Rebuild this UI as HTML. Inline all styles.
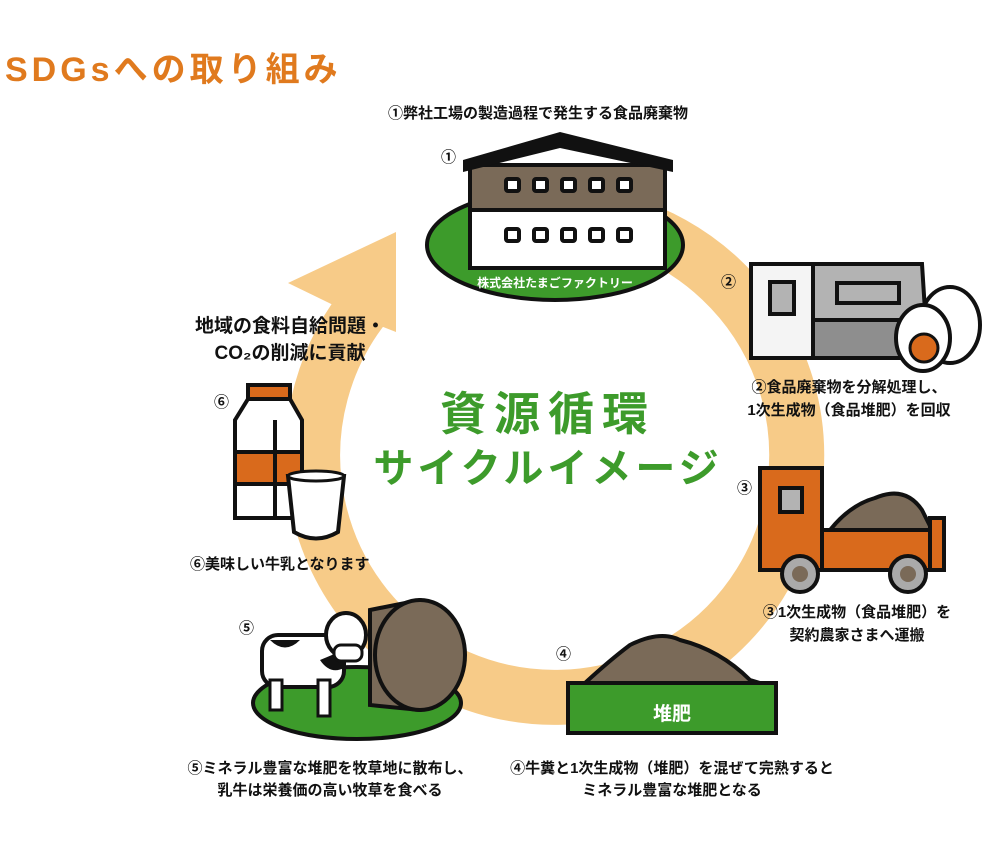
<!DOCTYPE html>
<html><head><meta charset="utf-8"><style>
body{margin:0;background:#fff;}
svg{display:block;font-family:"Liberation Sans","Noto Sans CJK JP",sans-serif;font-weight:bold;}
</style></head><body>
<svg width="989" height="861" viewBox="0 0 989 861" xmlns="http://www.w3.org/2000/svg">
<!-- ring -->
<path d="M513 217 A242 242 0 1 1 370 299" fill="none" stroke="#f7cb88" stroke-width="55"/>
<polygon points="288,283 396,232 396,332 360,318" fill="#f7cb88"/>

<text x="5" y="81" font-size="34" letter-spacing="4" fill="#e07a1e">SDGsへの取り組み</text>

<!-- factory -->
<ellipse cx="555" cy="245" rx="128" ry="55" fill="#3d9b2b" stroke="#111" stroke-width="4"/>
<rect x="470" y="165" width="195" height="45" fill="#7a6a58" stroke="#111" stroke-width="4"/>
<rect x="470" y="210" width="195" height="58" fill="#fff" stroke="#111" stroke-width="4"/>
<polygon points="463,160 560,132 673,160 673,172 560,148 463,172" fill="#111"/>
<g fill="#fff" stroke="#111" stroke-width="4">
<rect x="506" y="179" width="13" height="12" rx="2"/><rect x="534" y="179" width="13" height="12" rx="2"/><rect x="562" y="179" width="13" height="12" rx="2"/><rect x="590" y="179" width="13" height="12" rx="2"/><rect x="618" y="179" width="13" height="12" rx="2"/>
<rect x="506" y="229" width="13" height="12" rx="2"/><rect x="534" y="229" width="13" height="12" rx="2"/><rect x="562" y="229" width="13" height="12" rx="2"/><rect x="590" y="229" width="13" height="12" rx="2"/><rect x="618" y="229" width="13" height="12" rx="2"/>
</g>
<text x="555" y="287" font-size="12" fill="#fff" text-anchor="middle">株式会社たまごファクトリー</text>

<!-- machine -->
<polygon points="812,264 922,264 928,358 812,358" fill="#b3b3b3" stroke="#111" stroke-width="4"/>
<rect x="814" y="320" width="112" height="36" fill="#8e8e8e"/>
<line x1="812" y1="320" x2="926" y2="320" stroke="#111" stroke-width="4"/>
<rect x="751" y="264" width="62" height="94" fill="#f4f4f4" stroke="#111" stroke-width="4"/>
<rect x="770" y="282" width="24" height="32" fill="#b3b3b3" stroke="#111" stroke-width="4"/>
<rect x="837" y="283" width="62" height="20" fill="#b3b3b3" stroke="#111" stroke-width="4"/>
<ellipse cx="950" cy="325" rx="30" ry="38" fill="#fff" stroke="#111" stroke-width="4"/>
<ellipse cx="923" cy="338" rx="27" ry="33" fill="#fff" stroke="#111" stroke-width="4"/>
<circle cx="924" cy="348" r="14" fill="#d96a1c" stroke="#111" stroke-width="3"/>

<!-- truck -->
<path d="M830 530 Q850 505 875 498 Q905 485 922 510 L932 530 Z" fill="#7a6a58" stroke="#111" stroke-width="4"/>
<rect x="820" y="530" width="112" height="40" fill="#d96a1c" stroke="#111" stroke-width="4"/>
<rect x="930" y="518" width="14" height="52" fill="#d96a1c" stroke="#111" stroke-width="4"/>
<rect x="760" y="468" width="62" height="102" fill="#d96a1c" stroke="#111" stroke-width="4"/>
<rect x="780" y="488" width="22" height="24" fill="#b3b3b3" stroke="#111" stroke-width="4"/>
<circle cx="800" cy="574" r="18" fill="#aaa" stroke="#111" stroke-width="4"/><circle cx="800" cy="574" r="8" fill="#7a6a58"/>
<circle cx="908" cy="574" r="18" fill="#aaa" stroke="#111" stroke-width="4"/><circle cx="908" cy="574" r="8" fill="#7a6a58"/>

<!-- compost -->
<path d="M585 683 Q610 660 630 645 Q660 630 680 640 Q720 650 750 680 L760 683 Z" fill="#7a6a58" stroke="#111" stroke-width="4"/>
<rect x="568" y="683" width="208" height="50" fill="#3d9b2b" stroke="#111" stroke-width="4"/>
<text x="672" y="720" font-size="19" fill="#fff" text-anchor="middle">堆肥</text>

<!-- cow -->
<ellipse cx="357" cy="703" rx="104" ry="36" fill="#3d9b2b" stroke="#111" stroke-width="4"/>
<path d="M370 610 L420 600 A48 56 0 0 1 420 710 L370 705 Z" fill="#7a6a58" stroke="#111" stroke-width="4"/>
<ellipse cx="420" cy="655" rx="45" ry="55" fill="#7a6a58" stroke="#111" stroke-width="4"/>
<rect x="262" y="635" width="82" height="52" rx="16" fill="#fff" stroke="#111" stroke-width="4"/>
<path d="M270 640 Q285 655 300 640 Z M320 660 Q330 675 344 668 L344 650 Z" fill="#111"/>
<rect x="270" y="680" width="12" height="30" fill="#fff" stroke="#111" stroke-width="3"/>
<rect x="318" y="680" width="12" height="36" fill="#fff" stroke="#111" stroke-width="3"/>
<ellipse cx="346" cy="635" rx="20" ry="22" fill="#fff" stroke="#111" stroke-width="4"/>
<rect x="334" y="645" width="28" height="16" rx="7" fill="#fff" stroke="#111" stroke-width="3"/>

<!-- milk -->
<rect x="248" y="385" width="42" height="14" fill="#d96a1c" stroke="#111" stroke-width="4"/>
<polygon points="235,420 248,399 290,399 302,420 302,518 235,518" fill="#fff" stroke="#111" stroke-width="4"/>
<rect x="235" y="452" width="67" height="32" fill="#d96a1c" stroke="#111" stroke-width="4"/>
<line x1="275" y1="420" x2="275" y2="518" stroke="#111" stroke-width="4"/>
<path d="M288 476 L344 476 L338 532 Q316 545 294 532 Z" fill="#fff" stroke="#111" stroke-width="4"/>
<ellipse cx="316" cy="476" rx="28" ry="5" fill="#fff" stroke="#111" stroke-width="3"/>

<g font-size="15" fill="#111">
<text x="388" y="118">①弊社工場の製造過程で発生する食品廃棄物</text>
<text x="441" y="162">①</text>
<text x="721" y="287">②</text>
<text x="849" y="392" text-anchor="middle">②食品廃棄物を分解処理し、</text>
<text x="849" y="415" text-anchor="middle">1次生成物（食品堆肥）を回収</text>
<text x="737" y="493">③</text>
<text x="857" y="617" text-anchor="middle">③1次生成物（食品堆肥）を</text>
<text x="857" y="640" text-anchor="middle">契約農家さまへ運搬</text>
<text x="556" y="659">④</text>
<text x="672" y="773" text-anchor="middle">④牛糞と1次生成物（堆肥）を混ぜて完熟すると</text>
<text x="672" y="795" text-anchor="middle">ミネラル豊富な堆肥となる</text>
<text x="239" y="633">⑤</text>
<text x="330" y="773" text-anchor="middle">⑤ミネラル豊富な堆肥を牧草地に散布し、</text>
<text x="330" y="795" text-anchor="middle">乳牛は栄養価の高い牧草を食べる</text>
<text x="214" y="407">⑥</text>
<text x="190" y="569">⑥美味しい牛乳となります</text>
</g>
<g font-size="19" fill="#111" text-anchor="middle">
<text x="290" y="332">地域の食料自給問題・</text>
<text x="290" y="359">CO₂の削減に貢献</text>
</g>
<g fill="#3d9b2b" text-anchor="middle">
<text x="548" y="430" font-size="46" letter-spacing="8">資源循環</text>
<text x="548" y="482" font-size="40" letter-spacing="4">サイクルイメージ</text>
</g>
</svg>
</body></html>
